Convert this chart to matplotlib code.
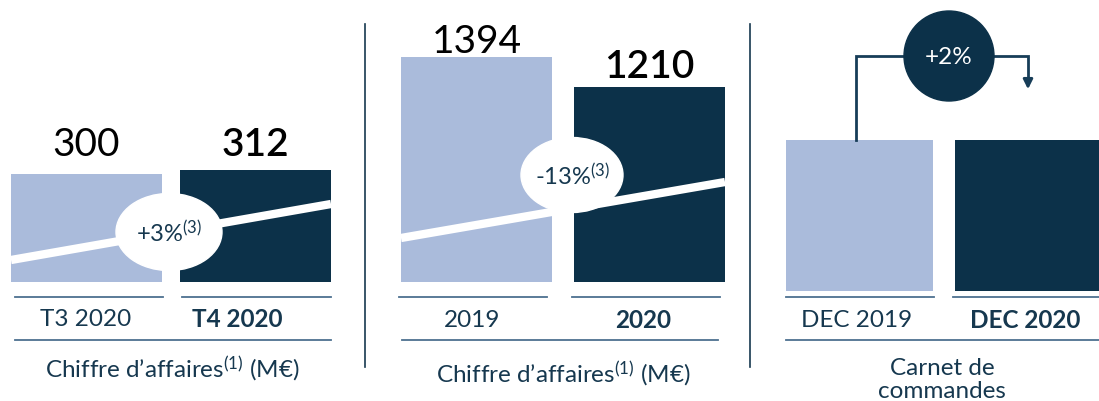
import matplotlib
matplotlib.use("Agg")
import matplotlib.pyplot as plt
from matplotlib.patches import Ellipse, Circle

plt.rcParams['font.family'] = ['Lato', 'DejaVu Sans']
plt.rcParams['mathtext.fontset'] = 'custom'
plt.rcParams['mathtext.rm'] = 'Lato'
plt.rcParams['mathtext.it'] = 'Lato'
plt.rcParams['mathtext.default'] = 'rm'

# ---- data ----
q_labels = ["T3 2020", "T4 2020"]
q_values = [300, 312]
q_change = "+3%$^{(3)}$"

y_labels = ["2019", "2020"]
y_values = [1394, 1210]
y_change = "-13%$^{(3)}$"

b_labels = ["DEC 2019", "DEC 2020"]
b_values = [100, 100]   # relative index, bars drawn equal in the source
b_change = "+2%"

titles = ["Chiffre d\u2019affaires$^{(1)}$ (M\u20ac)",
          "Chiffre d\u2019affaires$^{(1)}$ (M\u20ac)",
          "Carnet de\ncommandes"]

LIGHT = "#AABBDB"
DARK = "#0C3149"
TEXT = "#16384F"
RULE = "#4D7190"

W, H = 1099, 402
fig = plt.figure(figsize=(W / 100, H / 100), dpi=100)

def px_axes(x0, x1, y_top, y_bot):
    return fig.add_axes([x0 / W, 1 - y_bot / H, (x1 - x0) / W, (y_bot - y_top) / H])

# overlay axes in pixel coordinates for decorations
ov = fig.add_axes([0, 0, 1, 1], zorder=5)
ov.set_xlim(0, W)
ov.set_ylim(H, 0)
ov.axis("off")
ov.patch.set_alpha(0)

def bar_panel(x_left, x_right, pitch, base_px, px_per_unit, top_px, values, gaps=None):
    half = (x_right - x_left - pitch) / (2 * pitch)  # half bar width in units
    ax = px_axes(x_left, x_right, top_px, base_px)
    ax.set_xlim(-half, 1 + half)
    ax.set_ylim(0, (base_px - top_px) / px_per_unit)
    ax.bar([0, 1], values, width=2 * half, color=[LIGHT, DARK], linewidth=0)
    ax.axis("off")
    if gaps is not None:
        for i, v in enumerate(values):
            ax.annotate(f"{v}", (i, v), xytext=(0, gaps[i] * 0.72), textcoords="offset points",
                        ha="center", va="baseline", fontsize=28, color="black",
                        fontweight="semibold" if i == 1 else "normal",
                        fontfamily=["Lato", "DejaVu Sans"], annotation_clip=False)
    return ax

# Panel 1
bar_panel(11, 331, 169, 283, 108 / 300, 100, q_values, gaps=[19, 15])
# Panel 2
bar_panel(401, 725, 173, 283, 225 / 1394, 0, y_values, gaps=[5, 10])
# Panel 3
bar_panel(786, 1102, 169, 292, 151 / 100, 100, b_values)

# diagonal white lines
ov.plot([11, 331], [261, 205], color="white", lw=6, solid_capstyle="butt", zorder=6)
ov.plot([401, 725], [239, 183], color="white", lw=6, solid_capstyle="butt", zorder=6)

# ellipses with change labels
ov.add_patch(Ellipse((169, 233), 106, 77, color="white", zorder=7))
ov.text(169, 234, q_change, ha="center", va="center", fontsize=17, color=TEXT, zorder=8)
ov.add_patch(Ellipse((572, 176), 102, 75, color="white", zorder=7))
ov.text(572, 177, y_change, ha="center", va="center", fontsize=17, color=TEXT, zorder=8)

# backlog connector
ov.plot([856, 856, 1028, 1028], [141, 57, 57, 82], color="#173D58", lw=2, zorder=6,
        solid_joinstyle="miter")
ov.annotate("", xy=(1028, 93), xytext=(1028, 80),
            arrowprops=dict(arrowstyle="-|>", color="#173D58", lw=2, mutation_scale=14),
            zorder=6)
ov.add_patch(Circle((949, 57), 45, color=DARK, zorder=7))
ov.text(949, 58, b_change, ha="center", va="center", fontsize=17.5, color="white", zorder=8)

# rules and labels
panels = [
    dict(short=[(15, 163), (182, 331)], long=(15, 331), centers=[86, 237], labels=q_labels,
         ly=320, title_x=172, title_y=369),
    dict(short=[(399, 547), (572, 720)], long=(402, 718), centers=[472, 643], labels=y_labels,
         ly=321, title_x=563, title_y=374),
    dict(short=[(786, 934), (953, 1099)], long=(786, 1099), centers=[857, 1025], labels=b_labels,
         ly=321, title_x=942, title_y=380),
]
for i, p in enumerate(panels):
    for (a, b) in p["short"]:
        ov.plot([a, b], [298, 298], color=RULE, lw=1.3, zorder=4)
    ov.plot(list(p["long"]), [341, 341], color=RULE, lw=1.3, zorder=4)
    for j, (cx, lab) in enumerate(zip(p["centers"], p["labels"])):
        ov.text(cx, p["ly"], lab, ha="center", va="center", fontsize=17.5, color=TEXT,
                fontweight="bold" if j == 1 else "normal")
    ov.text(p["title_x"], p["title_y"], titles[i], ha="center", va="center", fontsize=17.5,
            color=TEXT, linespacing=1.15)

# vertical separators
ov.plot([365, 365], [25, 368], color=TEXT, lw=1.2)
ov.plot([750, 750], [25, 368], color=TEXT, lw=1.2)

fig.savefig("out.png", dpi=100)
